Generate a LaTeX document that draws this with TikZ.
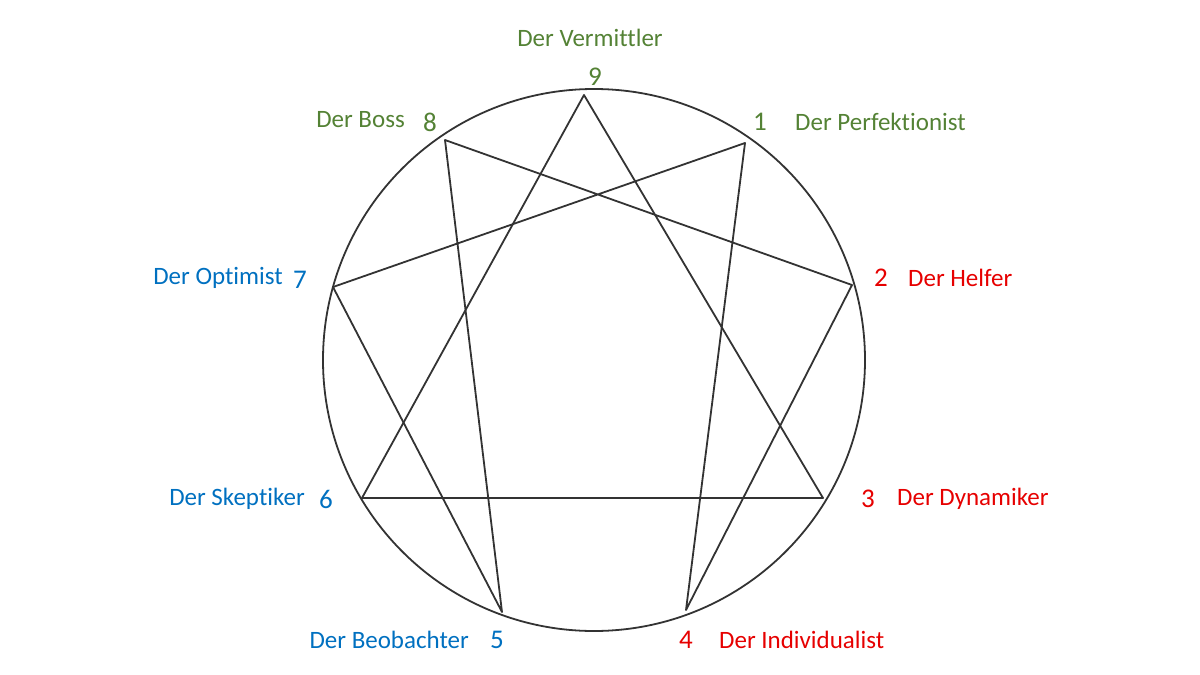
\documentclass[tikz,border=0pt]{standalone}
\usepackage{fontspec}
\setmainfont[Ligatures=NoCommon]{Carlito}
\definecolor{eg}{RGB}{84,130,53}
\definecolor{er}{RGB}{230,0,0}
\definecolor{eb}{RGB}{0,112,192}
\begin{document}
\begin{tikzpicture}[x=1pt,y=-1pt,
  lab/.style={font=\fontsize{25}{27}\selectfont,inner sep=0},
  num/.style={font=\fontsize{27}{29}\selectfont,inner sep=0},
  ln/.style={line width=1.8pt,draw=black!80,line join=round}]
\useasboundingbox (0,0) rectangle (1200,675);
\node[circle,draw=black!80,line width=1.8pt,minimum size=542pt,inner sep=0] (c) at (594,360) {};
\coordinate (p9) at (584,95);
\coordinate (p1) at (745,143);
\coordinate (p2) at (852,285);
\coordinate (p3) at (823,498);
\coordinate (p4) at (686,610);
\coordinate (p5) at (502,612);
\coordinate (p6) at (362,498);
\coordinate (p7) at (333,287);
\coordinate (p8) at (445,140);
\draw[ln] (p9) -- (p3) -- (p6) -- cycle;
\draw[ln] (p1) -- (p4) -- (p2) -- (p8) -- (p5) -- (p7) -- cycle;
\node[lab,text=eg] (t9) at (590,38) {Der Vermittler};
\node[num,text=eg] (n9) at (595,77) {9};
\node[lab,text=eg,anchor=east] (t8) at (405,120) {Der Boss};
\node[num,text=eg] (n8) at (430,122) {8};
\node[num,text=eg] (n1) at (760,122) {1};
\node[lab,text=eg,anchor=west] (t1) at (795,122) {Der Perfektionist};
\node[lab,text=eb,anchor=east] (t7) at (283,278) {Der Optimist};
\node[num,text=eb] (n7) at (300,280) {7};
\node[num,text=er] (n2) at (881,278) {2};
\node[lab,text=er,anchor=west] (t2) at (908,278) {Der Helfer};
\node[lab,text=eb,anchor=east] (t6) at (305,499) {Der Skeptiker};
\node[num,text=eb] (n6) at (326,499) {6};
\node[num,text=er] (n3) at (868,499) {3};
\node[lab,text=er,anchor=west] (t3) at (897,499) {Der Dynamiker};
\node[lab,text=eb,anchor=east] (t5) at (469,640) {Der Beobachter};
\node[num,text=eb] (n5) at (497,640) {5};
\node[num,text=er] (n4) at (686,640) {4};
\node[lab,text=er,anchor=west] (t4) at (719,640) {Der Individualist};
\end{tikzpicture}
\end{document}
